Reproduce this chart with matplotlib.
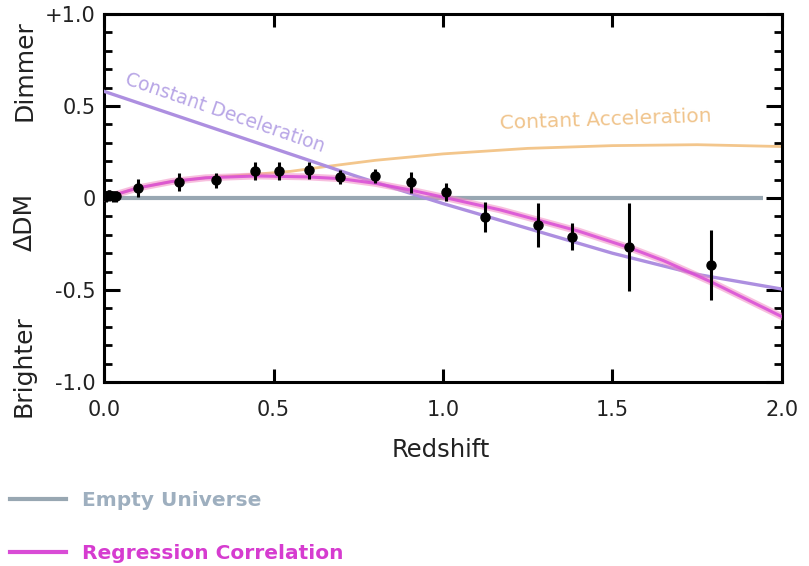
import numpy as np
import matplotlib
matplotlib.use('Agg')
import matplotlib.pyplot as plt
from matplotlib.lines import Line2D
from matplotlib.ticker import MultipleLocator

# supernova data points (redshift, delta distance modulus, error)
z_obs = [0.005, 0.015, 0.025, 0.035, 0.10, 0.22, 0.33, 0.445, 0.515, 0.605,
         0.695, 0.80, 0.905, 1.01, 1.125, 1.28, 1.38, 1.55, 1.79]
dm_obs = [0.01, 0.015, 0.01, 0.01, 0.055, 0.087, 0.097, 0.147, 0.147, 0.150,
          0.115, 0.12, 0.087, 0.033, -0.103, -0.147, -0.21, -0.265, -0.364]
dm_err = [0.03, 0.03, 0.03, 0.03, 0.05, 0.05, 0.04, 0.05, 0.05, 0.045,
          0.04, 0.04, 0.057, 0.05, 0.08, 0.12, 0.075, 0.24, 0.19]

# model curves
empty_z = [0.0, 1.945]
empty_dm = [0.0, 0.0]

decel_z = [0.0, 0.25, 0.5, 0.75, 1.0, 1.25, 1.5, 1.75, 2.0]
decel_dm = [0.58, 0.425, 0.27, 0.115, -0.03, -0.165, -0.30, -0.415, -0.495]

accel_z = [0.0, 0.1, 0.2, 0.3, 0.45, 0.55, 0.65, 0.8, 1.0, 1.25, 1.5, 1.75, 2.0]
accel_dm = [0.0, 0.055, 0.09, 0.11, 0.13, 0.145, 0.17, 0.205, 0.24, 0.27,
            0.285, 0.29, 0.28]

regr_z = [0.0, 0.1, 0.2, 0.3, 0.45, 0.6, 0.7, 0.8, 0.9, 1.0, 1.17, 1.26,
          1.4, 1.55, 1.65, 1.79, 2.0]
regr_dm = [0.0, 0.055, 0.09, 0.11, 0.12, 0.115, 0.105, 0.08, 0.045, 0.005,
           -0.065, -0.11, -0.18, -0.27, -0.34, -0.455, -0.645]

x_ticks = [0.0, 0.5, 1.0, 1.5, 2.0]
x_labels = ['0.0', '0.5', '1.0', '1.5', '2.0']
y_ticks = [-1.0, -0.5, 0.0, 0.5, 1.0]
y_labels = ['-1.0', '-0.5', '0', '0.5', '+1.0']

EMPTY = '#98a7b2'
DECEL = '#ad8fe0'
ACCEL = '#f3c68c'
MAGENTA = '#d94cd6'
PINK = '#f28cc4'

fig = plt.figure(figsize=(8.09, 5.66), dpi=100)
ax = fig.add_axes([0.1286, 0.3251, 0.838, 0.650])

ax.plot(empty_z, empty_dm, color=EMPTY, lw=3, solid_capstyle='butt', zorder=2)
ax.plot(accel_z, accel_dm, color=ACCEL, lw=2, zorder=2)
ax.plot(decel_z, decel_dm, color=DECEL, lw=2.4, zorder=3)
ax.plot(regr_z, regr_dm, color=PINK, lw=5, alpha=0.55, zorder=3)
ax.plot(regr_z, regr_dm, color=MAGENTA, lw=2.2, alpha=0.85, zorder=4)
ax.errorbar(z_obs, dm_obs, yerr=dm_err, fmt='o', color='black', ms=6.5,
            elinewidth=2.2, capsize=0, zorder=5)

ax.text(0.357, 0.465, 'Constant Deceleration', color='#b8a6e6', fontsize=13.5,
        rotation=-19, ha='center', va='center')
ax.text(1.481, 0.424, 'Contant Acceleration', color='#f0c48c', fontsize=14.5,
        rotation=2, ha='center', va='center')

ax.set_xlim(0, 2)
ax.set_ylim(-1, 1)
ax.set_xticks(x_ticks)
ax.set_xticklabels(x_labels)
ax.set_yticks(y_ticks)
ax.set_yticklabels(y_labels)
ax.yaxis.set_minor_locator(MultipleLocator(0.1))

for s in ax.spines.values():
    s.set_linewidth(2.2)
ax.tick_params(axis='x', which='major', direction='in', length=9.5, width=2.2,
               top=True, labelsize=15, pad=13, labelcolor='#222222')
ax.tick_params(axis='y', which='major', direction='in', length=11.5, width=2.2,
               right=True, labelsize=15, pad=6, labelcolor='#222222')
ax.tick_params(axis='y', which='minor', direction='in', length=6, width=2,
               right=True)

fig.text(441 / 809, 1 - 450 / 566, 'Redshift', ha='center', va='center',
         fontsize=17.5, color='#222222')
fig.text(24 / 809, 1 - 71 / 566, 'Dimmer', rotation=90, ha='center',
         va='center', fontsize=18, color='#222222')
fig.text(25 / 809, 1 - 222 / 566, '\u0394DM', rotation=90, ha='center',
         va='center', fontsize=18, color='#222222')
fig.text(24 / 809, 1 - 366 / 566, 'Brighter', rotation=90, ha='center',
         va='center', fontsize=18, color='#222222')

handles = [Line2D([], [], color=EMPTY, lw=3),
           Line2D([], [], color=MAGENTA, lw=3)]
leg = fig.legend(handles, ['Empty Universe', 'Regression Correlation'],
                 loc='upper left', bbox_to_anchor=(10 / 809, 1 - 491 / 566),
                 frameon=False, borderpad=0, borderaxespad=0,
                 handlelength=2.76, handletextpad=0.83, labelspacing=1.68,
                 prop={'weight': 'bold', 'size': 14.5})
for txt, c in zip(leg.get_texts(), ['#9eafbf', '#d63cd0']):
    txt.set_color(c)

fig.savefig('out.png', dpi=100)
